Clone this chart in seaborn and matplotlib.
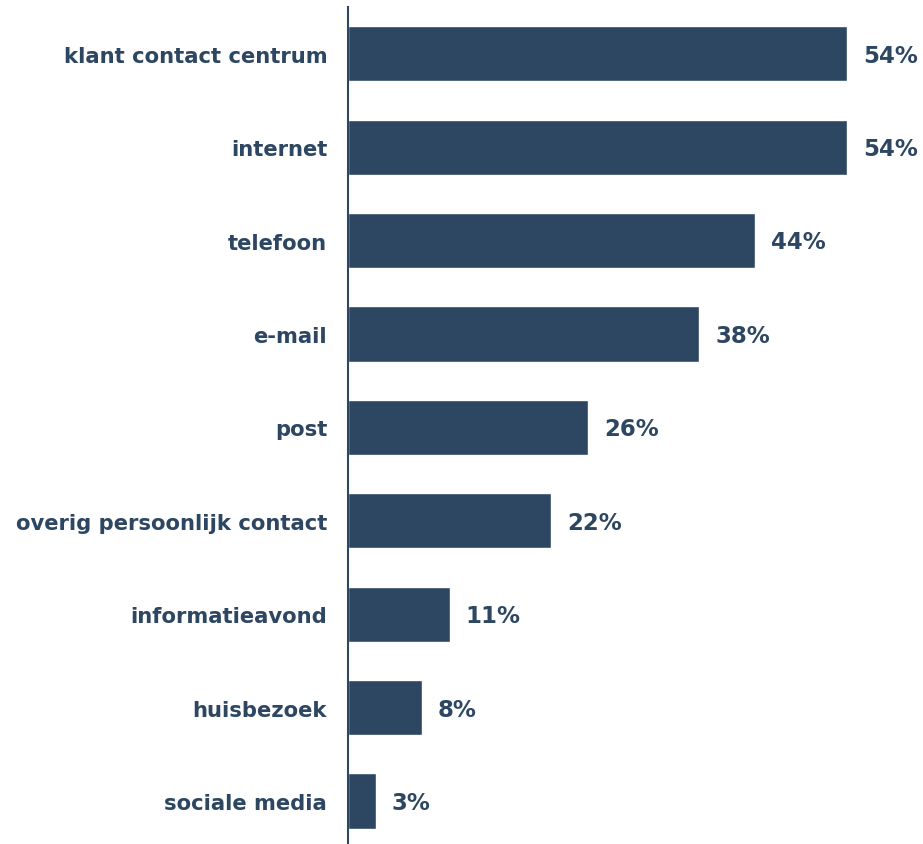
import matplotlib
matplotlib.use("Agg")
import matplotlib.pyplot as plt
import seaborn as sns
import pandas as pd

categories = [
    "klant contact centrum",
    "internet",
    "telefoon",
    "e-mail",
    "post",
    "overig persoonlijk contact",
    "informatieavond",
    "huisbezoek",
    "sociale media",
]
percentages = [54, 54, 44, 38, 26, 22, 11, 8, 3]

navy = "#2d4762"

sns.set_theme(style="white")
plt.rcParams["font.family"] = ["DejaVu Sans"]

df = pd.DataFrame({"kanaal": categories, "pct": percentages})

fig = plt.figure(figsize=(9.23, 8.45), dpi=100)
ax = fig.add_axes([348 / 923, 0.0, 1 - 348 / 923, 1 - 8 / 845])

sns.barplot(data=df, x="pct", y="kanaal", color=navy, width=0.59,
            saturation=1, ax=ax, orient="h")

ax.set_xlim(0, (923 - 348) / (499 / 54))
ax.set_ylim(8.46, -0.5)

for i, v in enumerate(percentages):
    ax.annotate(f"{v}%", xy=(v, i), xytext=(11.5, -1), textcoords="offset points",
                va="center", ha="left", fontsize=16.5, fontweight="bold",
                color=navy)

ax.set_xlabel("")
ax.set_ylabel("")
ax.set_xticks([])
ax.tick_params(axis="y", length=0, pad=15)
for lbl in ax.get_yticklabels():
    lbl.set_fontsize(15.2)
    lbl.set_fontweight("bold")
    lbl.set_color(navy)

for side in ["top", "right", "bottom"]:
    ax.spines[side].set_visible(False)
ax.spines["left"].set_color(navy)
ax.spines["left"].set_linewidth(1.5)

fig.savefig("out.png", dpi=100)
